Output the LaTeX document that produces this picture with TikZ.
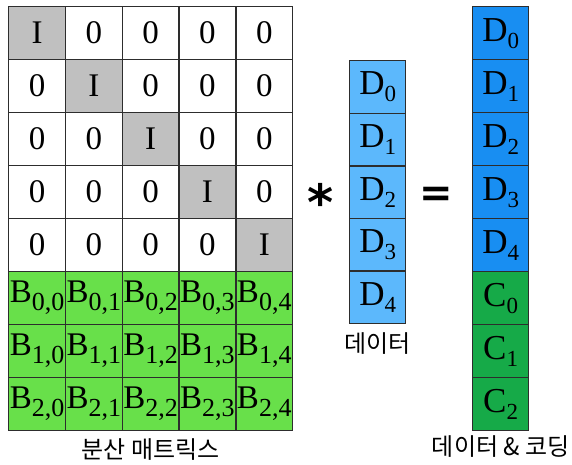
\documentclass[tikz,border=0pt]{standalone}
\usepackage{fontspec}
\setmainfont{Liberation Serif}
\newfontfamily\kofont{Noto Sans CJK KR}
\newfontfamily\symfont{DejaVu Sans}
\usetikzlibrary{positioning,calc}
\definecolor{cellgray}{RGB}{192,192,192}
\definecolor{codegreen}{RGB}{104,224,74}
\definecolor{datablue}{RGB}{92,184,252}
\definecolor{outblue}{RGB}{24,142,242}
\definecolor{outgreen}{RGB}{22,170,72}
\definecolor{gridline}{RGB}{45,45,45}
\newcommand{\dsub}[2]{#1\raisebox{-7pt}{\fontsize{23}{23}\selectfont#2}}
\newcommand{\bsub}[1]{\fontsize{33}{33}\selectfont B\raisebox{-8pt}{\fontsize{26}{26}\selectfont#1}}

\begin{document}
\begin{tikzpicture}[x=1pt,y=-1pt,
  cell/.style={draw=gridline, line width=1.3pt, anchor=north west, minimum width=56.8pt,
    minimum height=53pt, inner sep=0pt, font=\fontsize{33}{33}\selectfont},
  zero/.style={cell, fill=white},
  unit/.style={cell, fill=cellgray},
  bcell/.style={cell, fill=codegreen},
  dcell/.style={cell, fill=datablue, minimum width=56pt, minimum height=52.6pt,
    font=\fontsize{35}{35}\selectfont},
  ocell/.style={cell, fill=outblue, minimum width=56pt, font=\fontsize{35}{35}\selectfont},
  ccell/.style={ocell, fill=outgreen},
  label/.style={font=\kofont\fontsize{24}{24}\selectfont},
  opsym/.style={font=\symfont\bfseries\fontsize{50}{50}\selectfont, inner sep=0pt}]
  \useasboundingbox (0,0) rectangle (572,464);
  % identity block
  \foreach \r in {0,...,4}
    \foreach \c in {0,...,4} {
      \ifnum\r=\c
        \node[unit] (m-\r-\c) at ({8+56.8*\c},{6+53*\r}) {I};
      \else
        \node[zero] (m-\r-\c) at ({8+56.8*\c},{6+53*\r}) {0};
      \fi
    }
  % coding rows
  \foreach \r in {0,1,2}
    \foreach \c in {0,...,4}
      \node[bcell] (b-\r-\c) at ({8+56.8*\c},{6+53*(\r+5)}) {\bsub{\r,\c}};
  % data vector
  \foreach \i in {0,...,4}
    \node[dcell] (d-\i) at (349,{60+52.6*\i}) {\dsub{D}{\i}};
  % data and coding vector
  \foreach \i in {0,...,4}
    \node[ocell] (o-\i) at (472,{6+53*\i}) {\dsub{D}{\i}};
  \foreach \i in {0,1,2}
    \node[ccell] (c-\i) at (472,{6+53*(\i+5)}) {\dsub{C}{\i}};

  \node[opsym] (times) at ($(m-3-4.east)!0.5!(d-2.west)+(-1,10)$) {*};
  \node[opsym, font=\symfont\bfseries\fontsize{40}{40}\selectfont] (equals)
    at ($(d-2.east)!0.45!(o-3.west)+(0,5)$) {=};

  \node[label, below=4pt of b-2-2] (lbl-m) {분산 매트릭스};
  \node[label, below=5pt of d-4] (lbl-d) {데이터};
  \node[label, below=1pt of c-2] (lbl-o) {데이터 \& 코딩};
\end{tikzpicture}
\end{document}
